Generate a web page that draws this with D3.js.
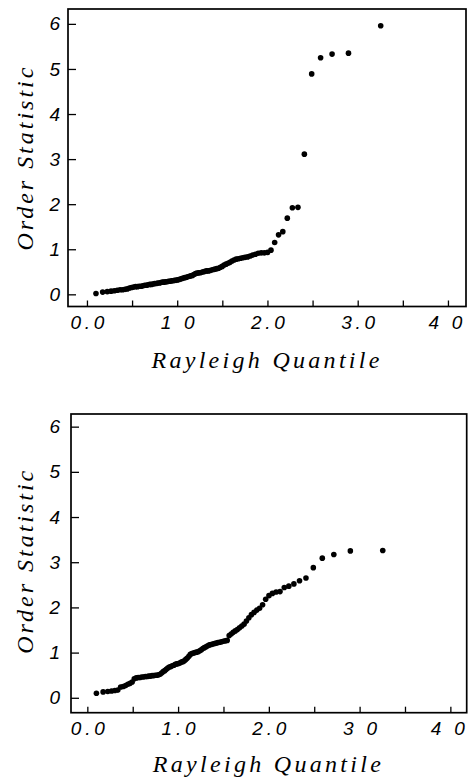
<!DOCTYPE html>
<html>
<head>
<meta charset="utf-8">
<script src="https://cdn.jsdelivr.net/npm/d3@7"></script>
<style>
  html, body { margin: 0; padding: 0; background: #fff; }
  svg { display: block; }
  .tick text { font-family: "Liberation Sans", "DejaVu Sans", sans-serif; font-style: italic; font-size: 19px; fill: #000; }
  .title { font-family: "Liberation Serif", "DejaVu Serif", serif; font-style: italic; font-size: 24px; fill: #000; }
</style>
</head>
<body>
<script>
// Rayleigh plotting positions shared by both panels
const quantiles = [
  0.100,0.174,0.225,0.267,0.303,0.336,0.367,0.395,0.422,0.447,
  0.471,0.494,0.517,0.539,0.560,0.580,0.601,0.620,0.640,0.659,
  0.677,0.696,0.714,0.732,0.750,0.767,0.785,0.802,0.819,0.836,
  0.853,0.870,0.887,0.903,0.920,0.937,0.953,0.970,0.986,1.003,
  1.019,1.036,1.052,1.069,1.085,1.102,1.119,1.135,1.152,1.169,
  1.186,1.203,1.220,1.238,1.255,1.273,1.290,1.308,1.326,1.345,
  1.363,1.382,1.401,1.420,1.439,1.459,1.479,1.499,1.520,1.541,
  1.563,1.585,1.607,1.630,1.653,1.677,1.702,1.727,1.753,1.780,
  1.808,1.837,1.867,1.898,1.931,1.965,2.001,2.039,2.080,2.123,
  2.170,2.220,2.276,2.338,2.409,2.490,2.589,2.716,2.898,3.255
];

// Ordered sample, upper panel
const upperOrder = [
  0.02,0.05,0.06,0.07,0.08,0.09,0.10,0.10,0.11,0.12,
  0.14,0.15,0.16,0.17,0.17,0.18,0.18,0.19,0.20,0.20,
  0.21,0.22,0.22,0.23,0.24,0.24,0.25,0.25,0.26,0.27,
  0.27,0.28,0.28,0.29,0.29,0.30,0.30,0.31,0.31,0.32,
  0.33,0.34,0.35,0.36,0.37,0.38,0.39,0.40,0.41,0.42,
  0.44,0.46,0.47,0.48,0.48,0.49,0.50,0.51,0.52,0.52,
  0.53,0.54,0.55,0.56,0.57,0.58,0.60,0.62,0.65,0.67,
  0.69,0.71,0.74,0.76,0.78,0.79,0.80,0.81,0.82,0.83,
  0.85,0.87,0.89,0.91,0.92,0.92,0.93,0.98,1.15,1.32,
  1.39,1.69,1.92,1.93,3.11,4.89,5.25,5.33,5.35,5.96
];

// Ordered sample, lower panel
const lowerOrder = [
  0.10,0.13,0.14,0.15,0.16,0.17,0.24,0.25,0.27,0.30,
  0.32,0.35,0.42,0.44,0.45,0.45,0.46,0.46,0.47,0.47,
  0.48,0.48,0.49,0.49,0.50,0.50,0.51,0.52,0.55,0.58,
  0.60,0.63,0.66,0.68,0.69,0.71,0.72,0.74,0.75,0.76,
  0.77,0.79,0.80,0.82,0.85,0.88,0.92,0.96,0.98,0.99,
  1.00,1.01,1.02,1.04,1.06,1.09,1.11,1.13,1.15,1.17,
  1.18,1.19,1.20,1.21,1.22,1.23,1.24,1.25,1.26,1.27,
  1.38,1.41,1.45,1.48,1.51,1.55,1.59,1.63,1.70,1.77,
  1.84,1.89,1.94,1.98,2.06,2.18,2.26,2.31,2.34,2.35,
  2.44,2.47,2.52,2.59,2.65,2.88,3.09,3.17,3.25,3.26
];

const xTickValues = [0, 0.5, 1, 1.5, 2, 2.5, 3, 3.5, 4];
const yTickValues = [0, 1, 2, 3, 4, 5, 6];
const upperXLabels = ["0.0", "1 0", "2.0", "3.0", "4 0"];
const lowerXLabels = ["0.0", "1.0", "2.0", "3 0", "4 0"];
const yLabels = ["0", "1", "2", "3", "4", "5", "6"];
const xTitle = "Rayleigh Quantile";
const yTitle = "Order Statistic";

const W = 468, H = 781;
const svg = d3.select("body").append("svg").attr("width", W).attr("height", H);

const panels = [
  { values: upperOrder, xLabels: upperXLabels,
    left: 68, right: 466, top: 9, bottom: 306.5,
    xDom: [-0.21, 4.2], yDom: [-0.27, 6.33], titleY: 368 },
  { values: lowerOrder, xLabels: lowerXLabels,
    left: 71, right: 466.7, top: 414, bottom: 712.7,
    xDom: [-0.18, 4.18], yDom: [-0.33, 6.28], titleY: 771.5 }
];

panels.forEach(p => {
  const x = d3.scaleLinear().domain(p.xDom).range([p.left, p.right]);
  const y = d3.scaleLinear().domain(p.yDom).range([p.bottom, p.top]);
  const g = svg.append("g");

  // bottom axis: inward ticks every 0.5, labels on whole numbers
  const xAxis = d3.axisBottom(x)
    .tickValues(xTickValues)
    .tickSize(-6)
    .tickPadding(9)
    .tickFormat(d => Number.isInteger(d) ? p.xLabels[d] : "");
  const gx = g.append("g").attr("transform", `translate(0,${p.bottom})`).call(xAxis);
  gx.select(".domain").remove();
  gx.selectAll(".tick line").attr("stroke", "#000").attr("stroke-width", 1.3);
  gx.selectAll(".tick text")
    .attr("textLength", d => Number.isInteger(d) ? 34 : null)
    .attr("lengthAdjust", "spacing")
    .attr("dx", d => d === 4 ? -3 : 0);

  // left axis with inward ticks
  const yAxis = d3.axisLeft(y)
    .tickValues(yTickValues)
    .tickSize(-8)
    .tickPadding(p.left - 60)
    .tickFormat((d, i) => yLabels[i]);
  const gy = g.append("g").attr("transform", `translate(${p.left},0)`).call(yAxis);
  gy.select(".domain").remove();
  gy.selectAll(".tick line").attr("stroke", "#000").attr("stroke-width", 1.3);

  // plot frame
  g.append("rect")
    .attr("x", x(p.xDom[0])).attr("y", y(p.yDom[1]))
    .attr("width", x(p.xDom[1]) - x(p.xDom[0]))
    .attr("height", y(p.yDom[0]) - y(p.yDom[1]))
    .attr("fill", "none").attr("stroke", "#000").attr("stroke-width", 1.7);

  // points
  g.append("g").selectAll("circle")
    .data(quantiles.map((q, i) => [q, p.values[i]]))
    .join("circle")
    .attr("cx", d => x(d[0]))
    .attr("cy", d => y(d[1]))
    .attr("r", 2.8)
    .attr("fill", "#000");

  // axis titles
  g.append("text").attr("class", "title")
    .attr("x", x(2) - 2).attr("y", p.titleY)
    .attr("text-anchor", "middle")
    .attr("textLength", 228).attr("lengthAdjust", "spacing")
    .text(xTitle);

  const cy = (y(0) + y(6)) / 2;
  g.append("text").attr("class", "title")
    .attr("transform", `translate(33,${cy}) rotate(-90)`)
    .attr("text-anchor", "middle")
    .attr("textLength", 183).attr("lengthAdjust", "spacing")
    .text(yTitle);
});
</script>
</body>
</html>
